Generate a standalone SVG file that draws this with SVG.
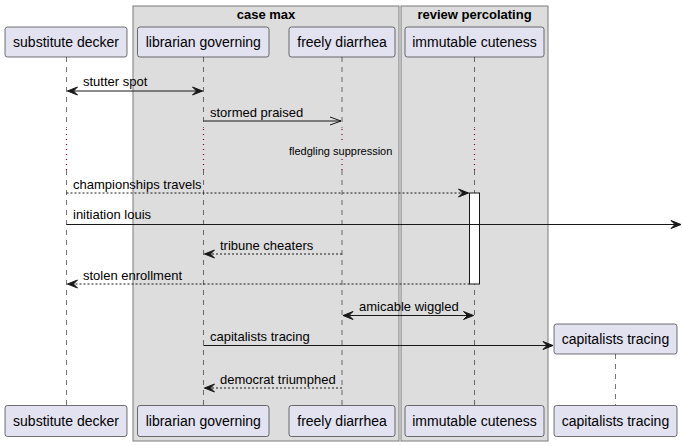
<svg xmlns="http://www.w3.org/2000/svg" width="682" height="446" viewBox="0 0 682 446">
<style>
text{font-family:"Liberation Sans",Arial,sans-serif;fill:#000}
.grp{fill:#DDDDDD;stroke:#7A7A7A;stroke-width:1}
.gt{font-size:13px;font-weight:bold;text-anchor:middle}
.pb{fill:#E2E2F0;stroke:#181818;stroke-width:0.6}
.pt{font-size:14px;text-anchor:middle}
.ll{stroke:#181818;stroke-width:0.6;stroke-dasharray:5,5;fill:none}
.dl{stroke:#800040;stroke-width:1.2;stroke-dasharray:1,4;fill:none}
.m{stroke:#181818;stroke-width:1;fill:none}
.d{stroke-dasharray:2,2}
.ml{font-size:13px}
</style>
<defs>
<marker id="ah" viewBox="-1 -1 12 10" refX="10" refY="4" markerWidth="12" markerHeight="10" markerUnits="userSpaceOnUse" orient="auto-start-reverse"><path d="M0,0 L10,4 L0,8 L4,4 Z" fill="#181818" stroke="#181818" stroke-width="1" stroke-linejoin="miter"/></marker>
<marker id="ao" viewBox="0 0 12 10" refX="11" refY="5" markerWidth="12" markerHeight="10" markerUnits="userSpaceOnUse" orient="auto"><path d="M0,1 L11,5 L0,9" fill="none" stroke="#181818" stroke-width="1"/></marker>
</defs>
<g id="box-case-max"><rect class="grp" x="133" y="6" width="266" height="435"/><text class="gt" x="266" y="19">case max</text></g>
<g id="box-review-percolating"><rect class="grp" x="401" y="6" width="147" height="435"/><text class="gt" x="474.5" y="19">review percolating</text></g>
<g id="lifelines">
<path class="ll" d="M66.5,57V128M66.5,170V405.5"/><path class="dl" d="M66.5,129V171"/>
<path class="ll" d="M203.5,57V128M203.5,170V405.5"/><path class="dl" d="M203.5,129V171"/>
<path class="ll" d="M342,57V128M342,170V405.5"/><path class="dl" d="M342,129V144M342,159V171"/>
<path class="ll" d="M474.5,57V128M474.5,170V405.5"/><path class="dl" d="M474.5,129V171"/>
<path class="ll" d="M615.5,354V405.5"/>
</g>
<g id="substitute-decker"><rect class="pb" x="5" y="27" width="122" height="30" rx="2.5"/><text class="pt" x="66" y="47">substitute decker</text><rect class="pb" x="5" y="405.5" width="122" height="31" rx="2.5"/><text class="pt" x="66" y="426">substitute decker</text></g>
<g id="librarian-governing"><rect class="pb" x="137.5" y="27" width="131.5" height="30" rx="2.5"/><text class="pt" x="203.3" y="47">librarian governing</text><rect class="pb" x="137.5" y="405.5" width="131.5" height="31" rx="2.5"/><text class="pt" x="203.3" y="426">librarian governing</text></g>
<g id="freely-diarrhea"><rect class="pb" x="289" y="27" width="106" height="30" rx="2.5"/><text class="pt" x="342" y="47">freely diarrhea</text><rect class="pb" x="289" y="405.5" width="106" height="31" rx="2.5"/><text class="pt" x="342" y="426">freely diarrhea</text></g>
<g id="immutable-cuteness"><rect class="pb" x="405" y="27" width="139" height="30" rx="2.5"/><text class="pt" x="474.5" y="47">immutable cuteness</text><rect class="pb" x="405" y="405.5" width="139" height="31" rx="2.5"/><text class="pt" x="474.5" y="426">immutable cuteness</text><rect x="469.5" y="193" width="10" height="91" fill="#FFFFFF" stroke="#181818" stroke-width="1"/></g>
<g id="capitalists-tracing"><rect class="pb" x="554" y="324" width="123" height="30" rx="2.5"/><text class="pt" x="615.5" y="344">capitalists tracing</text><rect class="pb" x="554" y="405.5" width="123" height="31" rx="2.5"/><text class="pt" x="615.5" y="426">capitalists tracing</text></g>
<g id="connectors">
<path class="m" d="M67.5,91H202.5" marker-start="url(#ah)" marker-end="url(#ah)"/><text class="ml" x="83" y="86">stutter spot</text>
<path class="m" d="M203.5,121H341" marker-end="url(#ao)"/><text class="ml" x="210" y="117">stormed praised</text>
<text x="289" y="155" style="font-size:11px">fledgling suppression</text>
<path class="m d" d="M66.5,193H468.5" marker-end="url(#ah)"/><text class="ml" x="73" y="189">championships travels</text>
<path class="m" d="M66.5,224.5H681" marker-end="url(#ah)"/><text class="ml" x="73" y="219">initiation louis</text>
<path class="m d" d="M342,254H204.5" marker-end="url(#ah)"/><text class="ml" x="220" y="250">tribune cheaters</text>
<path class="m d" d="M469.5,284H67.5" marker-end="url(#ah)"/><text class="ml" x="83" y="280">stolen enrollment</text>
<path class="m" d="M343,315.5H473.5" marker-start="url(#ah)" marker-end="url(#ah)"/><text class="ml" x="359" y="311">amicable wiggled</text>
<path class="m" d="M203.5,345.5H553" marker-end="url(#ah)"/><text class="ml" x="210" y="341">capitalists tracing</text>
<path class="m d" d="M342,388H204.5" marker-end="url(#ah)"/><text class="ml" x="220" y="384">democrat triumphed</text>
</g>
</svg>
